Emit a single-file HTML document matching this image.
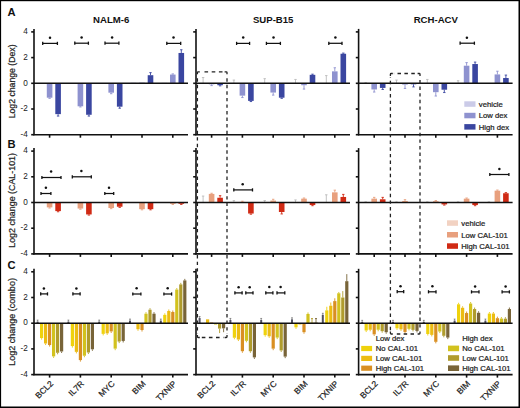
<!DOCTYPE html>
<html><head><meta charset="utf-8"><style>
html,body{margin:0;padding:0;background:#fff;}
svg{display:block;}
text{font-family:"Liberation Sans", sans-serif;}
text.r{stroke:#222;stroke-width:0.22px;}
</style></head><body>
<svg width="520" height="408" viewBox="0 0 520 408">
<rect x="0" y="0" width="520" height="408" fill="#fff"/>
<rect x="38.30" y="83.04" width="5.60" height="0.26" fill="#cbcbe8"/>
<rect x="46.80" y="83.30" width="5.60" height="14.39" fill="#8e92cf"/>
<line x1="49.60" y1="97.69" x2="49.60" y2="98.33" stroke="#8e92cf" stroke-width="0.9" />
<line x1="48.40" y1="98.33" x2="50.80" y2="98.33" stroke="#8e92cf" stroke-width="0.9" />
<rect x="55.30" y="83.30" width="5.60" height="30.84" fill="#3a46a0"/>
<line x1="58.10" y1="114.14" x2="58.10" y2="116.07" stroke="#3a46a0" stroke-width="0.9" />
<line x1="56.90" y1="116.07" x2="59.30" y2="116.07" stroke="#3a46a0" stroke-width="0.9" />
<rect x="69.10" y="83.04" width="5.60" height="0.26" fill="#cbcbe8"/>
<rect x="77.60" y="83.30" width="5.60" height="23.00" fill="#8e92cf"/>
<line x1="80.40" y1="106.30" x2="80.40" y2="106.94" stroke="#8e92cf" stroke-width="0.9" />
<line x1="79.20" y1="106.94" x2="81.60" y2="106.94" stroke="#8e92cf" stroke-width="0.9" />
<rect x="86.10" y="83.30" width="5.60" height="31.48" fill="#3a46a0"/>
<line x1="88.90" y1="114.78" x2="88.90" y2="116.07" stroke="#3a46a0" stroke-width="0.9" />
<line x1="87.70" y1="116.07" x2="90.10" y2="116.07" stroke="#3a46a0" stroke-width="0.9" />
<rect x="99.90" y="83.04" width="5.60" height="0.26" fill="#cbcbe8"/>
<rect x="108.40" y="83.30" width="5.60" height="9.38" fill="#8e92cf"/>
<line x1="111.20" y1="92.68" x2="111.20" y2="93.71" stroke="#8e92cf" stroke-width="0.9" />
<line x1="110.00" y1="93.71" x2="112.40" y2="93.71" stroke="#8e92cf" stroke-width="0.9" />
<rect x="116.90" y="83.30" width="5.60" height="23.39" fill="#3a46a0"/>
<line x1="119.70" y1="106.69" x2="119.70" y2="108.23" stroke="#3a46a0" stroke-width="0.9" />
<line x1="118.50" y1="108.23" x2="120.90" y2="108.23" stroke="#3a46a0" stroke-width="0.9" />
<rect x="130.70" y="82.66" width="5.60" height="0.64" fill="#cbcbe8"/>
<rect x="139.20" y="82.66" width="5.60" height="0.64" fill="#8e92cf"/>
<rect x="147.70" y="75.20" width="5.60" height="8.10" fill="#3a46a0"/>
<line x1="150.50" y1="75.20" x2="150.50" y2="72.63" stroke="#3a46a0" stroke-width="0.9" />
<line x1="149.30" y1="72.63" x2="151.70" y2="72.63" stroke="#3a46a0" stroke-width="0.9" />
<rect x="161.50" y="82.79" width="5.60" height="0.51" fill="#cbcbe8"/>
<rect x="170.00" y="74.56" width="5.60" height="8.74" fill="#8e92cf"/>
<line x1="172.80" y1="74.56" x2="172.80" y2="73.92" stroke="#8e92cf" stroke-width="0.9" />
<line x1="171.60" y1="73.92" x2="174.00" y2="73.92" stroke="#8e92cf" stroke-width="0.9" />
<rect x="178.50" y="52.97" width="5.60" height="30.33" fill="#3a46a0"/>
<line x1="181.30" y1="52.97" x2="181.30" y2="49.76" stroke="#3a46a0" stroke-width="0.9" />
<line x1="180.10" y1="49.76" x2="182.50" y2="49.76" stroke="#3a46a0" stroke-width="0.9" />
<line x1="203.10" y1="83.30" x2="203.10" y2="77.52" stroke="#bbbbbb" stroke-width="0.9" />
<line x1="201.90" y1="77.52" x2="204.30" y2="77.52" stroke="#bbbbbb" stroke-width="0.9" />
<rect x="208.80" y="83.30" width="5.60" height="1.03" fill="#8e92cf"/>
<line x1="211.60" y1="84.33" x2="211.60" y2="85.61" stroke="#8e92cf" stroke-width="0.9" />
<line x1="210.40" y1="85.61" x2="212.80" y2="85.61" stroke="#8e92cf" stroke-width="0.9" />
<rect x="217.30" y="83.30" width="5.60" height="1.93" fill="#3a46a0"/>
<line x1="220.10" y1="85.23" x2="220.10" y2="85.87" stroke="#3a46a0" stroke-width="0.9" />
<line x1="218.90" y1="85.87" x2="221.30" y2="85.87" stroke="#3a46a0" stroke-width="0.9" />
<line x1="233.90" y1="83.30" x2="233.90" y2="80.09" stroke="#bbbbbb" stroke-width="0.9" />
<line x1="232.70" y1="80.09" x2="235.10" y2="80.09" stroke="#bbbbbb" stroke-width="0.9" />
<rect x="239.60" y="83.30" width="5.60" height="12.34" fill="#8e92cf"/>
<line x1="242.40" y1="95.64" x2="242.40" y2="97.56" stroke="#8e92cf" stroke-width="0.9" />
<line x1="241.20" y1="97.56" x2="243.60" y2="97.56" stroke="#8e92cf" stroke-width="0.9" />
<rect x="248.10" y="83.30" width="5.60" height="17.60" fill="#3a46a0"/>
<line x1="250.90" y1="100.90" x2="250.90" y2="101.55" stroke="#3a46a0" stroke-width="0.9" />
<line x1="249.70" y1="101.55" x2="252.10" y2="101.55" stroke="#3a46a0" stroke-width="0.9" />
<line x1="264.70" y1="83.30" x2="264.70" y2="78.67" stroke="#bbbbbb" stroke-width="0.9" />
<line x1="263.50" y1="78.67" x2="265.90" y2="78.67" stroke="#bbbbbb" stroke-width="0.9" />
<rect x="270.40" y="83.30" width="5.60" height="9.25" fill="#8e92cf"/>
<line x1="273.20" y1="92.55" x2="273.20" y2="95.12" stroke="#8e92cf" stroke-width="0.9" />
<line x1="272.00" y1="95.12" x2="274.40" y2="95.12" stroke="#8e92cf" stroke-width="0.9" />
<rect x="278.90" y="83.30" width="5.60" height="14.39" fill="#3a46a0"/>
<line x1="281.70" y1="97.69" x2="281.70" y2="98.33" stroke="#3a46a0" stroke-width="0.9" />
<line x1="280.50" y1="98.33" x2="282.90" y2="98.33" stroke="#3a46a0" stroke-width="0.9" />
<line x1="295.50" y1="83.30" x2="295.50" y2="79.44" stroke="#bbbbbb" stroke-width="0.9" />
<line x1="294.30" y1="79.44" x2="296.70" y2="79.44" stroke="#bbbbbb" stroke-width="0.9" />
<rect x="301.20" y="83.30" width="5.60" height="1.93" fill="#8e92cf"/>
<line x1="304.00" y1="85.23" x2="304.00" y2="89.08" stroke="#8e92cf" stroke-width="0.9" />
<line x1="302.80" y1="89.08" x2="305.20" y2="89.08" stroke="#8e92cf" stroke-width="0.9" />
<rect x="309.70" y="74.82" width="5.60" height="8.48" fill="#3a46a0"/>
<line x1="312.50" y1="74.82" x2="312.50" y2="74.18" stroke="#3a46a0" stroke-width="0.9" />
<line x1="311.30" y1="74.18" x2="313.70" y2="74.18" stroke="#3a46a0" stroke-width="0.9" />
<line x1="326.30" y1="83.30" x2="326.30" y2="75.59" stroke="#bbbbbb" stroke-width="0.9" />
<line x1="325.10" y1="75.59" x2="327.50" y2="75.59" stroke="#bbbbbb" stroke-width="0.9" />
<rect x="332.00" y="71.35" width="5.60" height="11.95" fill="#8e92cf"/>
<line x1="334.80" y1="71.35" x2="334.80" y2="67.75" stroke="#8e92cf" stroke-width="0.9" />
<line x1="333.60" y1="67.75" x2="336.00" y2="67.75" stroke="#8e92cf" stroke-width="0.9" />
<rect x="340.50" y="53.75" width="5.60" height="29.55" fill="#3a46a0"/>
<line x1="343.30" y1="53.75" x2="343.30" y2="53.10" stroke="#3a46a0" stroke-width="0.9" />
<line x1="342.10" y1="53.10" x2="344.50" y2="53.10" stroke="#3a46a0" stroke-width="0.9" />
<line x1="365.70" y1="83.30" x2="365.70" y2="82.66" stroke="#bbbbbb" stroke-width="0.9" />
<line x1="364.50" y1="82.66" x2="366.90" y2="82.66" stroke="#bbbbbb" stroke-width="0.9" />
<rect x="371.40" y="83.30" width="5.60" height="6.17" fill="#8e92cf"/>
<line x1="374.20" y1="89.47" x2="374.20" y2="92.04" stroke="#8e92cf" stroke-width="0.9" />
<line x1="373.00" y1="92.04" x2="375.40" y2="92.04" stroke="#8e92cf" stroke-width="0.9" />
<rect x="379.90" y="83.30" width="5.60" height="4.63" fill="#3a46a0"/>
<line x1="382.70" y1="87.93" x2="382.70" y2="89.47" stroke="#3a46a0" stroke-width="0.9" />
<line x1="381.50" y1="89.47" x2="383.90" y2="89.47" stroke="#3a46a0" stroke-width="0.9" />
<line x1="396.50" y1="83.30" x2="396.50" y2="80.09" stroke="#bbbbbb" stroke-width="0.9" />
<line x1="395.30" y1="80.09" x2="397.70" y2="80.09" stroke="#bbbbbb" stroke-width="0.9" />
<rect x="402.20" y="83.30" width="5.60" height="1.28" fill="#8e92cf"/>
<line x1="405.00" y1="84.58" x2="405.00" y2="88.44" stroke="#8e92cf" stroke-width="0.9" />
<line x1="403.80" y1="88.44" x2="406.20" y2="88.44" stroke="#8e92cf" stroke-width="0.9" />
<rect x="410.70" y="83.30" width="5.60" height="1.03" fill="#3a46a0"/>
<line x1="413.50" y1="84.33" x2="413.50" y2="86.90" stroke="#3a46a0" stroke-width="0.9" />
<line x1="412.30" y1="86.90" x2="414.70" y2="86.90" stroke="#3a46a0" stroke-width="0.9" />
<line x1="427.30" y1="83.30" x2="427.30" y2="79.44" stroke="#bbbbbb" stroke-width="0.9" />
<line x1="426.10" y1="79.44" x2="428.50" y2="79.44" stroke="#bbbbbb" stroke-width="0.9" />
<rect x="433.00" y="83.30" width="5.60" height="8.87" fill="#8e92cf"/>
<line x1="435.80" y1="92.17" x2="435.80" y2="96.02" stroke="#8e92cf" stroke-width="0.9" />
<line x1="434.60" y1="96.02" x2="437.00" y2="96.02" stroke="#8e92cf" stroke-width="0.9" />
<rect x="441.50" y="83.30" width="5.60" height="6.42" fill="#3a46a0"/>
<line x1="444.30" y1="89.72" x2="444.30" y2="92.55" stroke="#3a46a0" stroke-width="0.9" />
<line x1="443.10" y1="92.55" x2="445.50" y2="92.55" stroke="#3a46a0" stroke-width="0.9" />
<line x1="458.10" y1="83.30" x2="458.10" y2="80.73" stroke="#bbbbbb" stroke-width="0.9" />
<line x1="456.90" y1="80.73" x2="459.30" y2="80.73" stroke="#bbbbbb" stroke-width="0.9" />
<rect x="463.80" y="65.70" width="5.60" height="17.60" fill="#8e92cf"/>
<line x1="466.60" y1="65.70" x2="466.60" y2="62.61" stroke="#8e92cf" stroke-width="0.9" />
<line x1="465.40" y1="62.61" x2="467.80" y2="62.61" stroke="#8e92cf" stroke-width="0.9" />
<rect x="472.30" y="64.03" width="5.60" height="19.27" fill="#3a46a0"/>
<line x1="475.10" y1="64.03" x2="475.10" y2="62.10" stroke="#3a46a0" stroke-width="0.9" />
<line x1="473.90" y1="62.10" x2="476.30" y2="62.10" stroke="#3a46a0" stroke-width="0.9" />
<rect x="494.60" y="74.43" width="5.60" height="8.87" fill="#8e92cf"/>
<line x1="497.40" y1="74.43" x2="497.40" y2="71.22" stroke="#8e92cf" stroke-width="0.9" />
<line x1="496.20" y1="71.22" x2="498.60" y2="71.22" stroke="#8e92cf" stroke-width="0.9" />
<rect x="503.10" y="78.03" width="5.60" height="5.27" fill="#3a46a0"/>
<line x1="505.90" y1="78.03" x2="505.90" y2="75.08" stroke="#3a46a0" stroke-width="0.9" />
<line x1="504.70" y1="75.08" x2="507.10" y2="75.08" stroke="#3a46a0" stroke-width="0.9" />
<rect x="46.80" y="202.50" width="5.60" height="4.88" fill="#e8a07e"/>
<line x1="49.60" y1="207.38" x2="49.60" y2="208.03" stroke="#e8a07e" stroke-width="0.9" />
<line x1="48.40" y1="208.03" x2="50.80" y2="208.03" stroke="#e8a07e" stroke-width="0.9" />
<rect x="55.30" y="202.50" width="5.60" height="8.61" fill="#d02a14"/>
<line x1="58.10" y1="211.11" x2="58.10" y2="211.75" stroke="#d02a14" stroke-width="0.9" />
<line x1="56.90" y1="211.75" x2="59.30" y2="211.75" stroke="#d02a14" stroke-width="0.9" />
<rect x="77.60" y="202.50" width="5.60" height="6.04" fill="#e8a07e"/>
<line x1="80.40" y1="208.54" x2="80.40" y2="209.18" stroke="#e8a07e" stroke-width="0.9" />
<line x1="79.20" y1="209.18" x2="81.60" y2="209.18" stroke="#e8a07e" stroke-width="0.9" />
<rect x="86.10" y="202.50" width="5.60" height="11.95" fill="#d02a14"/>
<line x1="88.90" y1="214.45" x2="88.90" y2="215.09" stroke="#d02a14" stroke-width="0.9" />
<line x1="87.70" y1="215.09" x2="90.10" y2="215.09" stroke="#d02a14" stroke-width="0.9" />
<rect x="108.40" y="202.50" width="5.60" height="5.53" fill="#e8a07e"/>
<line x1="111.20" y1="208.03" x2="111.20" y2="208.67" stroke="#e8a07e" stroke-width="0.9" />
<line x1="110.00" y1="208.67" x2="112.40" y2="208.67" stroke="#e8a07e" stroke-width="0.9" />
<rect x="116.90" y="202.50" width="5.60" height="4.24" fill="#d02a14"/>
<line x1="119.70" y1="206.74" x2="119.70" y2="207.38" stroke="#d02a14" stroke-width="0.9" />
<line x1="118.50" y1="207.38" x2="120.90" y2="207.38" stroke="#d02a14" stroke-width="0.9" />
<rect x="139.20" y="202.50" width="5.60" height="6.68" fill="#e8a07e"/>
<line x1="142.00" y1="209.18" x2="142.00" y2="209.82" stroke="#e8a07e" stroke-width="0.9" />
<line x1="140.80" y1="209.82" x2="143.20" y2="209.82" stroke="#e8a07e" stroke-width="0.9" />
<rect x="147.70" y="202.50" width="5.60" height="6.68" fill="#d02a14"/>
<line x1="150.50" y1="209.18" x2="150.50" y2="209.82" stroke="#d02a14" stroke-width="0.9" />
<line x1="149.30" y1="209.82" x2="151.70" y2="209.82" stroke="#d02a14" stroke-width="0.9" />
<rect x="170.00" y="202.50" width="5.60" height="1.28" fill="#e8a07e"/>
<line x1="172.80" y1="203.78" x2="172.80" y2="204.43" stroke="#e8a07e" stroke-width="0.9" />
<line x1="171.60" y1="204.43" x2="174.00" y2="204.43" stroke="#e8a07e" stroke-width="0.9" />
<rect x="178.50" y="202.50" width="5.60" height="1.28" fill="#d02a14"/>
<line x1="181.30" y1="203.78" x2="181.30" y2="204.43" stroke="#d02a14" stroke-width="0.9" />
<line x1="180.10" y1="204.43" x2="182.50" y2="204.43" stroke="#d02a14" stroke-width="0.9" />
<line x1="203.10" y1="202.50" x2="203.10" y2="196.07" stroke="#bbbbbb" stroke-width="0.9" />
<line x1="201.90" y1="196.07" x2="204.30" y2="196.07" stroke="#bbbbbb" stroke-width="0.9" />
<rect x="208.80" y="193.89" width="5.60" height="8.61" fill="#e8a07e"/>
<line x1="211.60" y1="193.89" x2="211.60" y2="193.25" stroke="#e8a07e" stroke-width="0.9" />
<line x1="210.40" y1="193.25" x2="212.80" y2="193.25" stroke="#e8a07e" stroke-width="0.9" />
<rect x="217.30" y="197.75" width="5.60" height="4.75" fill="#d02a14"/>
<line x1="220.10" y1="197.75" x2="220.10" y2="195.69" stroke="#d02a14" stroke-width="0.9" />
<line x1="218.90" y1="195.69" x2="221.30" y2="195.69" stroke="#d02a14" stroke-width="0.9" />
<line x1="233.90" y1="202.50" x2="233.90" y2="200.57" stroke="#bbbbbb" stroke-width="0.9" />
<line x1="232.70" y1="200.57" x2="235.10" y2="200.57" stroke="#bbbbbb" stroke-width="0.9" />
<rect x="239.60" y="201.86" width="5.60" height="0.64" fill="#e8a07e"/>
<line x1="242.40" y1="201.86" x2="242.40" y2="201.22" stroke="#e8a07e" stroke-width="0.9" />
<line x1="241.20" y1="201.22" x2="243.60" y2="201.22" stroke="#e8a07e" stroke-width="0.9" />
<rect x="248.10" y="202.50" width="5.60" height="11.05" fill="#d02a14"/>
<line x1="250.90" y1="213.55" x2="250.90" y2="214.19" stroke="#d02a14" stroke-width="0.9" />
<line x1="249.70" y1="214.19" x2="252.10" y2="214.19" stroke="#d02a14" stroke-width="0.9" />
<line x1="264.70" y1="202.50" x2="264.70" y2="200.57" stroke="#bbbbbb" stroke-width="0.9" />
<line x1="263.50" y1="200.57" x2="265.90" y2="200.57" stroke="#bbbbbb" stroke-width="0.9" />
<rect x="270.40" y="200.57" width="5.60" height="1.93" fill="#e8a07e"/>
<line x1="273.20" y1="200.57" x2="273.20" y2="199.29" stroke="#e8a07e" stroke-width="0.9" />
<line x1="272.00" y1="199.29" x2="274.40" y2="199.29" stroke="#e8a07e" stroke-width="0.9" />
<rect x="278.90" y="202.50" width="5.60" height="9.51" fill="#d02a14"/>
<line x1="281.70" y1="212.01" x2="281.70" y2="213.94" stroke="#d02a14" stroke-width="0.9" />
<line x1="280.50" y1="213.94" x2="282.90" y2="213.94" stroke="#d02a14" stroke-width="0.9" />
<line x1="295.50" y1="202.50" x2="295.50" y2="199.93" stroke="#bbbbbb" stroke-width="0.9" />
<line x1="294.30" y1="199.93" x2="296.70" y2="199.93" stroke="#bbbbbb" stroke-width="0.9" />
<rect x="301.20" y="198.65" width="5.60" height="3.85" fill="#e8a07e"/>
<line x1="304.00" y1="198.65" x2="304.00" y2="198.00" stroke="#e8a07e" stroke-width="0.9" />
<line x1="302.80" y1="198.00" x2="305.20" y2="198.00" stroke="#e8a07e" stroke-width="0.9" />
<rect x="309.70" y="202.50" width="5.60" height="2.57" fill="#d02a14"/>
<line x1="312.50" y1="205.07" x2="312.50" y2="205.71" stroke="#d02a14" stroke-width="0.9" />
<line x1="311.30" y1="205.71" x2="313.70" y2="205.71" stroke="#d02a14" stroke-width="0.9" />
<line x1="326.30" y1="202.50" x2="326.30" y2="194.79" stroke="#bbbbbb" stroke-width="0.9" />
<line x1="325.10" y1="194.79" x2="327.50" y2="194.79" stroke="#bbbbbb" stroke-width="0.9" />
<rect x="332.00" y="192.35" width="5.60" height="10.15" fill="#e8a07e"/>
<line x1="334.80" y1="192.35" x2="334.80" y2="190.16" stroke="#e8a07e" stroke-width="0.9" />
<line x1="333.60" y1="190.16" x2="336.00" y2="190.16" stroke="#e8a07e" stroke-width="0.9" />
<rect x="340.50" y="196.97" width="5.60" height="5.53" fill="#d02a14"/>
<line x1="343.30" y1="196.97" x2="343.30" y2="194.40" stroke="#d02a14" stroke-width="0.9" />
<line x1="342.10" y1="194.40" x2="344.50" y2="194.40" stroke="#d02a14" stroke-width="0.9" />
<line x1="365.70" y1="202.50" x2="365.70" y2="201.86" stroke="#bbbbbb" stroke-width="0.9" />
<line x1="364.50" y1="201.86" x2="366.90" y2="201.86" stroke="#bbbbbb" stroke-width="0.9" />
<rect x="371.40" y="198.65" width="5.60" height="3.85" fill="#e8a07e"/>
<line x1="374.20" y1="198.65" x2="374.20" y2="197.36" stroke="#e8a07e" stroke-width="0.9" />
<line x1="373.00" y1="197.36" x2="375.40" y2="197.36" stroke="#e8a07e" stroke-width="0.9" />
<rect x="379.90" y="199.29" width="5.60" height="3.21" fill="#d02a14"/>
<line x1="382.70" y1="199.29" x2="382.70" y2="197.36" stroke="#d02a14" stroke-width="0.9" />
<line x1="381.50" y1="197.36" x2="383.90" y2="197.36" stroke="#d02a14" stroke-width="0.9" />
<line x1="396.50" y1="202.50" x2="396.50" y2="201.86" stroke="#bbbbbb" stroke-width="0.9" />
<line x1="395.30" y1="201.86" x2="397.70" y2="201.86" stroke="#bbbbbb" stroke-width="0.9" />
<rect x="402.20" y="200.96" width="5.60" height="1.54" fill="#e8a07e"/>
<line x1="405.00" y1="200.96" x2="405.00" y2="199.67" stroke="#e8a07e" stroke-width="0.9" />
<line x1="403.80" y1="199.67" x2="406.20" y2="199.67" stroke="#e8a07e" stroke-width="0.9" />
<line x1="427.30" y1="202.50" x2="427.30" y2="201.86" stroke="#bbbbbb" stroke-width="0.9" />
<line x1="426.10" y1="201.86" x2="428.50" y2="201.86" stroke="#bbbbbb" stroke-width="0.9" />
<rect x="433.00" y="201.22" width="5.60" height="1.28" fill="#e8a07e"/>
<line x1="435.80" y1="201.22" x2="435.80" y2="200.57" stroke="#e8a07e" stroke-width="0.9" />
<line x1="434.60" y1="200.57" x2="437.00" y2="200.57" stroke="#e8a07e" stroke-width="0.9" />
<rect x="441.50" y="202.50" width="5.60" height="1.93" fill="#d02a14"/>
<line x1="444.30" y1="204.43" x2="444.30" y2="205.07" stroke="#d02a14" stroke-width="0.9" />
<line x1="443.10" y1="205.07" x2="445.50" y2="205.07" stroke="#d02a14" stroke-width="0.9" />
<line x1="458.10" y1="202.50" x2="458.10" y2="201.86" stroke="#bbbbbb" stroke-width="0.9" />
<line x1="456.90" y1="201.86" x2="459.30" y2="201.86" stroke="#bbbbbb" stroke-width="0.9" />
<rect x="463.80" y="198.65" width="5.60" height="3.85" fill="#e8a07e"/>
<line x1="466.60" y1="198.65" x2="466.60" y2="198.00" stroke="#e8a07e" stroke-width="0.9" />
<line x1="465.40" y1="198.00" x2="467.80" y2="198.00" stroke="#e8a07e" stroke-width="0.9" />
<rect x="472.30" y="202.50" width="5.60" height="2.57" fill="#d02a14"/>
<line x1="475.10" y1="205.07" x2="475.10" y2="205.71" stroke="#d02a14" stroke-width="0.9" />
<line x1="473.90" y1="205.71" x2="476.30" y2="205.71" stroke="#d02a14" stroke-width="0.9" />
<line x1="488.90" y1="202.50" x2="488.90" y2="201.86" stroke="#bbbbbb" stroke-width="0.9" />
<line x1="487.70" y1="201.86" x2="490.10" y2="201.86" stroke="#bbbbbb" stroke-width="0.9" />
<rect x="494.60" y="190.68" width="5.60" height="11.82" fill="#e8a07e"/>
<line x1="497.40" y1="190.68" x2="497.40" y2="190.04" stroke="#e8a07e" stroke-width="0.9" />
<line x1="496.20" y1="190.04" x2="498.60" y2="190.04" stroke="#e8a07e" stroke-width="0.9" />
<rect x="503.10" y="193.25" width="5.60" height="9.25" fill="#d02a14"/>
<line x1="505.90" y1="193.25" x2="505.90" y2="192.61" stroke="#d02a14" stroke-width="0.9" />
<line x1="504.70" y1="192.61" x2="507.10" y2="192.61" stroke="#d02a14" stroke-width="0.9" />
<rect x="36.60" y="321.66" width="2.00" height="1.54" fill="#50505e"/>
<line x1="37.60" y1="321.66" x2="37.60" y2="320.12" stroke="#666" stroke-width="0.7" />
<line x1="36.70" y1="320.12" x2="38.50" y2="320.12" stroke="#666" stroke-width="0.7" />
<rect x="40.00" y="323.20" width="3.20" height="14.91" fill="#efd20c"/>
<line x1="41.60" y1="338.11" x2="41.60" y2="339.65" stroke="#efd20c" stroke-width="0.9" />
<rect x="44.00" y="323.20" width="3.20" height="20.30" fill="#ecbc12"/>
<line x1="45.60" y1="343.50" x2="45.60" y2="345.05" stroke="#ecbc12" stroke-width="0.9" />
<rect x="48.00" y="323.20" width="3.20" height="21.84" fill="#d98f22"/>
<line x1="49.60" y1="345.04" x2="49.60" y2="346.59" stroke="#d98f22" stroke-width="0.9" />
<rect x="52.00" y="323.20" width="3.20" height="33.15" fill="#d2c21e"/>
<line x1="53.60" y1="356.35" x2="53.60" y2="357.89" stroke="#d2c21e" stroke-width="0.9" />
<rect x="56.00" y="323.20" width="3.20" height="29.56" fill="#b09c2c"/>
<line x1="57.60" y1="352.75" x2="57.60" y2="354.30" stroke="#b09c2c" stroke-width="0.9" />
<rect x="60.00" y="323.20" width="3.20" height="28.27" fill="#786438"/>
<line x1="61.60" y1="351.47" x2="61.60" y2="353.01" stroke="#786438" stroke-width="0.9" />
<rect x="67.40" y="321.66" width="2.00" height="1.54" fill="#50505e"/>
<line x1="68.40" y1="321.66" x2="68.40" y2="320.12" stroke="#666" stroke-width="0.7" />
<line x1="67.50" y1="320.12" x2="69.30" y2="320.12" stroke="#666" stroke-width="0.7" />
<rect x="70.80" y="323.20" width="3.20" height="22.87" fill="#efd20c"/>
<line x1="72.40" y1="346.07" x2="72.40" y2="347.62" stroke="#efd20c" stroke-width="0.9" />
<rect x="74.80" y="323.20" width="3.20" height="28.66" fill="#ecbc12"/>
<line x1="76.40" y1="351.86" x2="76.40" y2="353.40" stroke="#ecbc12" stroke-width="0.9" />
<rect x="78.80" y="323.20" width="3.20" height="36.88" fill="#d98f22"/>
<line x1="80.40" y1="360.08" x2="80.40" y2="361.62" stroke="#d98f22" stroke-width="0.9" />
<rect x="82.80" y="323.20" width="3.20" height="32.51" fill="#d2c21e"/>
<line x1="84.40" y1="355.71" x2="84.40" y2="357.25" stroke="#d2c21e" stroke-width="0.9" />
<rect x="86.80" y="323.20" width="3.20" height="29.30" fill="#b09c2c"/>
<line x1="88.40" y1="352.50" x2="88.40" y2="354.04" stroke="#b09c2c" stroke-width="0.9" />
<rect x="90.80" y="323.20" width="3.20" height="26.09" fill="#786438"/>
<line x1="92.40" y1="349.29" x2="92.40" y2="350.83" stroke="#786438" stroke-width="0.9" />
<rect x="98.20" y="321.66" width="2.00" height="1.54" fill="#50505e"/>
<line x1="99.20" y1="321.66" x2="99.20" y2="320.12" stroke="#666" stroke-width="0.7" />
<line x1="98.30" y1="320.12" x2="100.10" y2="320.12" stroke="#666" stroke-width="0.7" />
<rect x="101.60" y="323.20" width="3.20" height="10.67" fill="#efd20c"/>
<line x1="103.20" y1="333.87" x2="103.20" y2="335.41" stroke="#efd20c" stroke-width="0.9" />
<rect x="105.60" y="323.20" width="3.20" height="10.15" fill="#ecbc12"/>
<line x1="107.20" y1="333.35" x2="107.20" y2="334.89" stroke="#ecbc12" stroke-width="0.9" />
<rect x="109.60" y="323.20" width="3.20" height="8.22" fill="#d98f22"/>
<line x1="111.20" y1="331.42" x2="111.20" y2="332.97" stroke="#d98f22" stroke-width="0.9" />
<rect x="113.60" y="323.20" width="3.20" height="25.44" fill="#d2c21e"/>
<line x1="115.20" y1="348.64" x2="115.20" y2="350.19" stroke="#d2c21e" stroke-width="0.9" />
<rect x="117.60" y="323.20" width="3.20" height="18.38" fill="#b09c2c"/>
<line x1="119.20" y1="341.58" x2="119.20" y2="343.12" stroke="#b09c2c" stroke-width="0.9" />
<rect x="121.60" y="323.20" width="3.20" height="17.73" fill="#786438"/>
<line x1="123.20" y1="340.93" x2="123.20" y2="342.47" stroke="#786438" stroke-width="0.9" />
<rect x="129.00" y="320.63" width="2.00" height="2.57" fill="#50505e"/>
<line x1="130.00" y1="320.63" x2="130.00" y2="319.09" stroke="#666" stroke-width="0.7" />
<line x1="129.10" y1="319.09" x2="130.90" y2="319.09" stroke="#666" stroke-width="0.7" />
<rect x="132.40" y="323.20" width="3.20" height="0.26" fill="#efd20c"/>
<rect x="136.40" y="323.20" width="3.20" height="6.04" fill="#ecbc12"/>
<line x1="138.00" y1="329.24" x2="138.00" y2="330.78" stroke="#ecbc12" stroke-width="0.9" />
<rect x="140.40" y="323.20" width="3.20" height="6.81" fill="#d98f22"/>
<line x1="142.00" y1="330.01" x2="142.00" y2="331.55" stroke="#d98f22" stroke-width="0.9" />
<rect x="144.40" y="313.69" width="3.20" height="9.51" fill="#d2c21e"/>
<line x1="146.00" y1="313.69" x2="146.00" y2="312.15" stroke="#d2c21e" stroke-width="0.9" />
<rect x="148.40" y="309.71" width="3.20" height="13.49" fill="#b09c2c"/>
<line x1="150.00" y1="309.71" x2="150.00" y2="308.17" stroke="#b09c2c" stroke-width="0.9" />
<rect x="152.40" y="313.69" width="3.20" height="9.51" fill="#786438"/>
<line x1="154.00" y1="313.69" x2="154.00" y2="312.15" stroke="#786438" stroke-width="0.9" />
<rect x="159.80" y="320.63" width="2.00" height="2.57" fill="#50505e"/>
<line x1="160.80" y1="320.63" x2="160.80" y2="319.09" stroke="#666" stroke-width="0.7" />
<line x1="159.90" y1="319.09" x2="161.70" y2="319.09" stroke="#666" stroke-width="0.7" />
<rect x="163.20" y="314.85" width="3.20" height="8.35" fill="#efd20c"/>
<line x1="164.80" y1="314.85" x2="164.80" y2="313.31" stroke="#efd20c" stroke-width="0.9" />
<rect x="167.20" y="310.99" width="3.20" height="12.21" fill="#ecbc12"/>
<line x1="168.80" y1="310.99" x2="168.80" y2="309.45" stroke="#ecbc12" stroke-width="0.9" />
<rect x="171.20" y="312.02" width="3.20" height="11.18" fill="#d98f22"/>
<line x1="172.80" y1="312.02" x2="172.80" y2="310.48" stroke="#d98f22" stroke-width="0.9" />
<rect x="175.20" y="289.53" width="3.20" height="33.67" fill="#d2c21e"/>
<line x1="176.80" y1="289.53" x2="176.80" y2="287.99" stroke="#d2c21e" stroke-width="0.9" />
<rect x="179.20" y="284.39" width="3.20" height="38.81" fill="#b09c2c"/>
<line x1="180.80" y1="284.39" x2="180.80" y2="282.85" stroke="#b09c2c" stroke-width="0.9" />
<rect x="183.20" y="280.41" width="3.20" height="42.79" fill="#786438"/>
<line x1="184.80" y1="280.41" x2="184.80" y2="278.87" stroke="#786438" stroke-width="0.9" />
<rect x="198.60" y="318.06" width="2.00" height="5.14" fill="#50505e"/>
<line x1="199.60" y1="318.06" x2="199.60" y2="316.52" stroke="#666" stroke-width="0.7" />
<line x1="198.70" y1="316.52" x2="200.50" y2="316.52" stroke="#666" stroke-width="0.7" />
<rect x="202.00" y="323.20" width="3.20" height="0.64" fill="#efd20c"/>
<rect x="206.00" y="319.34" width="3.20" height="3.86" fill="#ecbc12"/>
<rect x="210.00" y="322.56" width="3.20" height="0.64" fill="#d98f22"/>
<rect x="214.00" y="323.20" width="3.20" height="1.29" fill="#d2c21e"/>
<rect x="218.00" y="323.20" width="3.20" height="5.40" fill="#b09c2c"/>
<line x1="219.60" y1="328.60" x2="219.60" y2="333.09" stroke="#b09c2c" stroke-width="0.9" />
<rect x="222.00" y="323.20" width="3.20" height="5.14" fill="#786438"/>
<line x1="223.60" y1="328.34" x2="223.60" y2="332.19" stroke="#786438" stroke-width="0.9" />
<rect x="229.40" y="319.99" width="2.00" height="3.21" fill="#50505e"/>
<line x1="230.40" y1="319.99" x2="230.40" y2="318.45" stroke="#666" stroke-width="0.7" />
<line x1="229.50" y1="318.45" x2="231.30" y2="318.45" stroke="#666" stroke-width="0.7" />
<rect x="232.80" y="323.20" width="3.20" height="14.52" fill="#efd20c"/>
<line x1="234.40" y1="337.72" x2="234.40" y2="339.26" stroke="#efd20c" stroke-width="0.9" />
<rect x="236.80" y="323.20" width="3.20" height="16.32" fill="#ecbc12"/>
<line x1="238.40" y1="339.52" x2="238.40" y2="341.06" stroke="#ecbc12" stroke-width="0.9" />
<rect x="240.80" y="323.20" width="3.20" height="28.01" fill="#d98f22"/>
<line x1="242.40" y1="351.21" x2="242.40" y2="352.75" stroke="#d98f22" stroke-width="0.9" />
<rect x="244.80" y="323.20" width="3.20" height="17.60" fill="#d2c21e"/>
<line x1="246.40" y1="340.80" x2="246.40" y2="342.35" stroke="#d2c21e" stroke-width="0.9" />
<rect x="248.80" y="323.20" width="3.20" height="28.01" fill="#b09c2c"/>
<line x1="250.40" y1="351.21" x2="250.40" y2="352.75" stroke="#b09c2c" stroke-width="0.9" />
<rect x="252.80" y="323.20" width="3.20" height="34.18" fill="#786438"/>
<line x1="254.40" y1="357.38" x2="254.40" y2="358.92" stroke="#786438" stroke-width="0.9" />
<rect x="260.20" y="319.99" width="2.00" height="3.21" fill="#50505e"/>
<line x1="261.20" y1="319.99" x2="261.20" y2="318.45" stroke="#666" stroke-width="0.7" />
<line x1="260.30" y1="318.45" x2="262.10" y2="318.45" stroke="#666" stroke-width="0.7" />
<rect x="263.60" y="323.20" width="3.20" height="11.95" fill="#efd20c"/>
<line x1="265.20" y1="335.15" x2="265.20" y2="336.69" stroke="#efd20c" stroke-width="0.9" />
<rect x="267.60" y="323.20" width="3.20" height="13.11" fill="#ecbc12"/>
<line x1="269.20" y1="336.31" x2="269.20" y2="337.85" stroke="#ecbc12" stroke-width="0.9" />
<rect x="271.60" y="323.20" width="3.20" height="25.44" fill="#d98f22"/>
<line x1="273.20" y1="348.64" x2="273.20" y2="350.19" stroke="#d98f22" stroke-width="0.9" />
<rect x="275.60" y="323.20" width="3.20" height="14.39" fill="#d2c21e"/>
<line x1="277.20" y1="337.59" x2="277.20" y2="339.13" stroke="#d2c21e" stroke-width="0.9" />
<rect x="279.60" y="323.20" width="3.20" height="27.24" fill="#b09c2c"/>
<line x1="281.20" y1="350.44" x2="281.20" y2="351.98" stroke="#b09c2c" stroke-width="0.9" />
<rect x="283.60" y="323.20" width="3.20" height="33.41" fill="#786438"/>
<line x1="285.20" y1="356.61" x2="285.20" y2="358.15" stroke="#786438" stroke-width="0.9" />
<rect x="291.00" y="319.34" width="2.00" height="3.86" fill="#50505e"/>
<line x1="292.00" y1="319.34" x2="292.00" y2="317.80" stroke="#666" stroke-width="0.7" />
<line x1="291.10" y1="317.80" x2="292.90" y2="317.80" stroke="#666" stroke-width="0.7" />
<rect x="294.40" y="323.20" width="3.20" height="4.11" fill="#efd20c"/>
<line x1="296.00" y1="327.31" x2="296.00" y2="328.85" stroke="#efd20c" stroke-width="0.9" />
<rect x="298.40" y="323.20" width="3.20" height="1.29" fill="#ecbc12"/>
<rect x="302.40" y="323.20" width="3.20" height="9.00" fill="#d98f22"/>
<line x1="304.00" y1="332.19" x2="304.00" y2="333.74" stroke="#d98f22" stroke-width="0.9" />
<rect x="306.40" y="313.95" width="3.20" height="9.25" fill="#d2c21e"/>
<line x1="308.00" y1="313.95" x2="308.00" y2="312.41" stroke="#d2c21e" stroke-width="0.9" />
<rect x="310.40" y="322.43" width="3.20" height="0.77" fill="#b09c2c"/>
<line x1="312.00" y1="322.43" x2="312.00" y2="318.57" stroke="#b09c2c" stroke-width="0.9" />
<line x1="311.00" y1="318.57" x2="313.00" y2="318.57" stroke="#b09c2c" stroke-width="0.9" />
<rect x="314.40" y="322.43" width="3.20" height="0.77" fill="#786438"/>
<line x1="316.00" y1="322.43" x2="316.00" y2="318.57" stroke="#786438" stroke-width="0.9" />
<line x1="315.00" y1="318.57" x2="317.00" y2="318.57" stroke="#786438" stroke-width="0.9" />
<rect x="321.80" y="314.85" width="2.00" height="8.35" fill="#50505e"/>
<line x1="322.80" y1="314.85" x2="322.80" y2="313.31" stroke="#666" stroke-width="0.7" />
<line x1="321.90" y1="313.31" x2="323.70" y2="313.31" stroke="#666" stroke-width="0.7" />
<rect x="325.20" y="310.35" width="3.20" height="12.85" fill="#efd20c"/>
<line x1="326.80" y1="310.35" x2="326.80" y2="306.75" stroke="#efd20c" stroke-width="0.9" />
<rect x="329.20" y="305.72" width="3.20" height="17.48" fill="#ecbc12"/>
<line x1="330.80" y1="305.72" x2="330.80" y2="302.51" stroke="#ecbc12" stroke-width="0.9" />
<rect x="333.20" y="301.10" width="3.20" height="22.10" fill="#d98f22"/>
<line x1="334.80" y1="301.10" x2="334.80" y2="298.27" stroke="#d98f22" stroke-width="0.9" />
<rect x="337.20" y="293.26" width="3.20" height="29.94" fill="#d2c21e"/>
<line x1="338.80" y1="293.26" x2="338.80" y2="291.97" stroke="#d2c21e" stroke-width="0.9" />
<rect x="341.20" y="297.50" width="3.20" height="25.70" fill="#b09c2c"/>
<line x1="342.80" y1="297.50" x2="342.80" y2="291.07" stroke="#b09c2c" stroke-width="0.9" />
<rect x="345.20" y="281.18" width="3.20" height="42.02" fill="#786438"/>
<line x1="346.80" y1="281.18" x2="346.80" y2="274.11" stroke="#786438" stroke-width="0.9" />
<rect x="361.20" y="321.91" width="2.00" height="1.29" fill="#50505e"/>
<line x1="362.20" y1="321.91" x2="362.20" y2="320.37" stroke="#666" stroke-width="0.7" />
<line x1="361.30" y1="320.37" x2="363.10" y2="320.37" stroke="#666" stroke-width="0.7" />
<rect x="364.60" y="323.20" width="3.20" height="7.32" fill="#efd20c"/>
<line x1="366.20" y1="330.52" x2="366.20" y2="332.07" stroke="#efd20c" stroke-width="0.9" />
<rect x="368.60" y="323.20" width="3.20" height="6.55" fill="#ecbc12"/>
<line x1="370.20" y1="329.75" x2="370.20" y2="331.30" stroke="#ecbc12" stroke-width="0.9" />
<rect x="372.60" y="323.20" width="3.20" height="11.18" fill="#d98f22"/>
<line x1="374.20" y1="334.38" x2="374.20" y2="335.92" stroke="#d98f22" stroke-width="0.9" />
<rect x="376.60" y="323.20" width="3.20" height="6.55" fill="#d2c21e"/>
<line x1="378.20" y1="329.75" x2="378.20" y2="331.30" stroke="#d2c21e" stroke-width="0.9" />
<rect x="380.60" y="323.20" width="3.20" height="7.97" fill="#b09c2c"/>
<line x1="382.20" y1="331.17" x2="382.20" y2="332.71" stroke="#b09c2c" stroke-width="0.9" />
<rect x="384.60" y="323.20" width="3.20" height="9.00" fill="#786438"/>
<line x1="386.20" y1="332.19" x2="386.20" y2="333.74" stroke="#786438" stroke-width="0.9" />
<rect x="392.00" y="321.91" width="2.00" height="1.29" fill="#50505e"/>
<line x1="393.00" y1="321.91" x2="393.00" y2="320.37" stroke="#666" stroke-width="0.7" />
<line x1="392.10" y1="320.37" x2="393.90" y2="320.37" stroke="#666" stroke-width="0.7" />
<rect x="395.40" y="323.20" width="3.20" height="5.14" fill="#efd20c"/>
<line x1="397.00" y1="328.34" x2="397.00" y2="329.88" stroke="#efd20c" stroke-width="0.9" />
<rect x="399.40" y="323.20" width="3.20" height="6.17" fill="#ecbc12"/>
<line x1="401.00" y1="329.37" x2="401.00" y2="330.91" stroke="#ecbc12" stroke-width="0.9" />
<rect x="403.40" y="323.20" width="3.20" height="8.74" fill="#d98f22"/>
<line x1="405.00" y1="331.94" x2="405.00" y2="333.48" stroke="#d98f22" stroke-width="0.9" />
<rect x="407.40" y="323.20" width="3.20" height="5.65" fill="#d2c21e"/>
<line x1="409.00" y1="328.85" x2="409.00" y2="330.40" stroke="#d2c21e" stroke-width="0.9" />
<rect x="411.40" y="323.20" width="3.20" height="6.68" fill="#b09c2c"/>
<line x1="413.00" y1="329.88" x2="413.00" y2="331.42" stroke="#b09c2c" stroke-width="0.9" />
<rect x="415.40" y="323.20" width="3.20" height="7.71" fill="#786438"/>
<line x1="417.00" y1="330.91" x2="417.00" y2="332.45" stroke="#786438" stroke-width="0.9" />
<rect x="422.80" y="321.91" width="2.00" height="1.29" fill="#50505e"/>
<line x1="423.80" y1="321.91" x2="423.80" y2="320.37" stroke="#666" stroke-width="0.7" />
<line x1="422.90" y1="320.37" x2="424.70" y2="320.37" stroke="#666" stroke-width="0.7" />
<rect x="426.20" y="323.20" width="3.20" height="10.79" fill="#efd20c"/>
<line x1="427.80" y1="333.99" x2="427.80" y2="335.54" stroke="#efd20c" stroke-width="0.9" />
<rect x="430.20" y="323.20" width="3.20" height="11.69" fill="#ecbc12"/>
<line x1="431.80" y1="334.89" x2="431.80" y2="336.44" stroke="#ecbc12" stroke-width="0.9" />
<rect x="434.20" y="323.20" width="3.20" height="18.63" fill="#d98f22"/>
<line x1="435.80" y1="341.83" x2="435.80" y2="343.37" stroke="#d98f22" stroke-width="0.9" />
<rect x="438.20" y="323.20" width="3.20" height="8.35" fill="#d2c21e"/>
<line x1="439.80" y1="331.55" x2="439.80" y2="333.09" stroke="#d2c21e" stroke-width="0.9" />
<rect x="442.20" y="323.20" width="3.20" height="12.59" fill="#b09c2c"/>
<line x1="443.80" y1="335.79" x2="443.80" y2="337.33" stroke="#b09c2c" stroke-width="0.9" />
<rect x="446.20" y="323.20" width="3.20" height="14.39" fill="#786438"/>
<line x1="447.80" y1="337.59" x2="447.80" y2="339.13" stroke="#786438" stroke-width="0.9" />
<rect x="453.60" y="320.63" width="2.00" height="2.57" fill="#50505e"/>
<line x1="454.60" y1="320.63" x2="454.60" y2="319.09" stroke="#666" stroke-width="0.7" />
<line x1="453.70" y1="319.09" x2="455.50" y2="319.09" stroke="#666" stroke-width="0.7" />
<rect x="457.00" y="304.31" width="3.20" height="18.89" fill="#efd20c"/>
<line x1="458.60" y1="304.31" x2="458.60" y2="302.77" stroke="#efd20c" stroke-width="0.9" />
<rect x="461.00" y="307.78" width="3.20" height="15.42" fill="#ecbc12"/>
<line x1="462.60" y1="307.78" x2="462.60" y2="306.24" stroke="#ecbc12" stroke-width="0.9" />
<rect x="465.00" y="313.05" width="3.20" height="10.15" fill="#d98f22"/>
<line x1="466.60" y1="313.05" x2="466.60" y2="311.51" stroke="#d98f22" stroke-width="0.9" />
<rect x="469.00" y="303.54" width="3.20" height="19.66" fill="#d2c21e"/>
<line x1="470.60" y1="303.54" x2="470.60" y2="302.00" stroke="#d2c21e" stroke-width="0.9" />
<rect x="473.00" y="309.06" width="3.20" height="14.13" fill="#b09c2c"/>
<line x1="474.60" y1="309.06" x2="474.60" y2="307.52" stroke="#b09c2c" stroke-width="0.9" />
<rect x="477.00" y="312.79" width="3.20" height="10.41" fill="#786438"/>
<line x1="478.60" y1="312.79" x2="478.60" y2="311.25" stroke="#786438" stroke-width="0.9" />
<rect x="484.40" y="320.63" width="2.00" height="2.57" fill="#50505e"/>
<line x1="485.40" y1="320.63" x2="485.40" y2="319.09" stroke="#666" stroke-width="0.7" />
<line x1="484.50" y1="319.09" x2="486.30" y2="319.09" stroke="#666" stroke-width="0.7" />
<rect x="487.80" y="313.56" width="3.20" height="9.64" fill="#efd20c"/>
<line x1="489.40" y1="313.56" x2="489.40" y2="312.02" stroke="#efd20c" stroke-width="0.9" />
<rect x="491.80" y="313.56" width="3.20" height="9.64" fill="#ecbc12"/>
<line x1="493.40" y1="313.56" x2="493.40" y2="312.02" stroke="#ecbc12" stroke-width="0.9" />
<rect x="495.80" y="318.19" width="3.20" height="5.01" fill="#d98f22"/>
<line x1="497.40" y1="318.19" x2="497.40" y2="316.65" stroke="#d98f22" stroke-width="0.9" />
<rect x="499.80" y="318.57" width="3.20" height="4.63" fill="#d2c21e"/>
<line x1="501.40" y1="318.57" x2="501.40" y2="317.03" stroke="#d2c21e" stroke-width="0.9" />
<rect x="503.80" y="318.70" width="3.20" height="4.50" fill="#b09c2c"/>
<line x1="505.40" y1="318.70" x2="505.40" y2="317.16" stroke="#b09c2c" stroke-width="0.9" />
<rect x="507.80" y="309.06" width="3.20" height="14.13" fill="#786438"/>
<line x1="509.40" y1="309.06" x2="509.40" y2="307.52" stroke="#786438" stroke-width="0.9" />
<line x1="34.00" y1="28.90" x2="34.00" y2="135.30" stroke="#111" stroke-width="1.6" />
<line x1="33.40" y1="134.70" x2="188.00" y2="134.70" stroke="#111" stroke-width="1.6" />
<line x1="34.00" y1="83.30" x2="188.00" y2="83.30" stroke="#111" stroke-width="1.6" />
<line x1="31.20" y1="31.90" x2="34.00" y2="31.90" stroke="#111" stroke-width="1.6" />
<text x="27.80" y="34.10" font-size="8.2" text-anchor="end" font-weight="normal" fill="#1a1a1a">4</text>
<line x1="31.20" y1="57.60" x2="34.00" y2="57.60" stroke="#111" stroke-width="1.6" />
<text x="27.80" y="59.80" font-size="8.2" text-anchor="end" font-weight="normal" fill="#1a1a1a">2</text>
<line x1="31.20" y1="83.30" x2="34.00" y2="83.30" stroke="#111" stroke-width="1.6" />
<text x="27.80" y="85.50" font-size="8.2" text-anchor="end" font-weight="normal" fill="#1a1a1a">0</text>
<line x1="31.20" y1="109.00" x2="34.00" y2="109.00" stroke="#111" stroke-width="1.6" />
<text x="27.80" y="111.20" font-size="8.2" text-anchor="end" font-weight="normal" fill="#1a1a1a">-2</text>
<line x1="31.20" y1="134.70" x2="34.00" y2="134.70" stroke="#111" stroke-width="1.6" />
<text x="27.80" y="136.90" font-size="8.2" text-anchor="end" font-weight="normal" fill="#1a1a1a">-4</text>
<line x1="49.60" y1="134.70" x2="49.60" y2="137.70" stroke="#111" stroke-width="1.6" />
<line x1="80.40" y1="134.70" x2="80.40" y2="137.70" stroke="#111" stroke-width="1.6" />
<line x1="111.20" y1="134.70" x2="111.20" y2="137.70" stroke="#111" stroke-width="1.6" />
<line x1="142.00" y1="134.70" x2="142.00" y2="137.70" stroke="#111" stroke-width="1.6" />
<line x1="172.80" y1="134.70" x2="172.80" y2="137.70" stroke="#111" stroke-width="1.6" />
<line x1="196.00" y1="28.90" x2="196.00" y2="135.30" stroke="#111" stroke-width="1.6" />
<line x1="195.40" y1="134.70" x2="350.00" y2="134.70" stroke="#111" stroke-width="1.6" />
<line x1="196.00" y1="83.30" x2="350.00" y2="83.30" stroke="#111" stroke-width="1.6" />
<line x1="193.20" y1="31.90" x2="196.00" y2="31.90" stroke="#111" stroke-width="1.6" />
<line x1="193.20" y1="57.60" x2="196.00" y2="57.60" stroke="#111" stroke-width="1.6" />
<line x1="193.20" y1="83.30" x2="196.00" y2="83.30" stroke="#111" stroke-width="1.6" />
<line x1="193.20" y1="109.00" x2="196.00" y2="109.00" stroke="#111" stroke-width="1.6" />
<line x1="193.20" y1="134.70" x2="196.00" y2="134.70" stroke="#111" stroke-width="1.6" />
<line x1="211.60" y1="134.70" x2="211.60" y2="137.70" stroke="#111" stroke-width="1.6" />
<line x1="242.40" y1="134.70" x2="242.40" y2="137.70" stroke="#111" stroke-width="1.6" />
<line x1="273.20" y1="134.70" x2="273.20" y2="137.70" stroke="#111" stroke-width="1.6" />
<line x1="304.00" y1="134.70" x2="304.00" y2="137.70" stroke="#111" stroke-width="1.6" />
<line x1="334.80" y1="134.70" x2="334.80" y2="137.70" stroke="#111" stroke-width="1.6" />
<line x1="358.60" y1="28.90" x2="358.60" y2="135.30" stroke="#111" stroke-width="1.6" />
<line x1="358.00" y1="134.70" x2="512.60" y2="134.70" stroke="#111" stroke-width="1.6" />
<line x1="358.60" y1="83.30" x2="512.60" y2="83.30" stroke="#111" stroke-width="1.6" />
<line x1="355.80" y1="31.90" x2="358.60" y2="31.90" stroke="#111" stroke-width="1.6" />
<line x1="355.80" y1="57.60" x2="358.60" y2="57.60" stroke="#111" stroke-width="1.6" />
<line x1="355.80" y1="83.30" x2="358.60" y2="83.30" stroke="#111" stroke-width="1.6" />
<line x1="355.80" y1="109.00" x2="358.60" y2="109.00" stroke="#111" stroke-width="1.6" />
<line x1="355.80" y1="134.70" x2="358.60" y2="134.70" stroke="#111" stroke-width="1.6" />
<line x1="374.20" y1="134.70" x2="374.20" y2="137.70" stroke="#111" stroke-width="1.6" />
<line x1="405.00" y1="134.70" x2="405.00" y2="137.70" stroke="#111" stroke-width="1.6" />
<line x1="435.80" y1="134.70" x2="435.80" y2="137.70" stroke="#111" stroke-width="1.6" />
<line x1="466.60" y1="134.70" x2="466.60" y2="137.70" stroke="#111" stroke-width="1.6" />
<line x1="497.40" y1="134.70" x2="497.40" y2="137.70" stroke="#111" stroke-width="1.6" />
<line x1="34.00" y1="148.10" x2="34.00" y2="254.50" stroke="#111" stroke-width="1.6" />
<line x1="33.40" y1="253.90" x2="188.00" y2="253.90" stroke="#111" stroke-width="1.6" />
<line x1="34.00" y1="202.50" x2="188.00" y2="202.50" stroke="#111" stroke-width="1.6" />
<line x1="31.20" y1="151.10" x2="34.00" y2="151.10" stroke="#111" stroke-width="1.6" />
<text x="27.80" y="153.30" font-size="8.2" text-anchor="end" font-weight="normal" fill="#1a1a1a">4</text>
<line x1="31.20" y1="176.80" x2="34.00" y2="176.80" stroke="#111" stroke-width="1.6" />
<text x="27.80" y="179.00" font-size="8.2" text-anchor="end" font-weight="normal" fill="#1a1a1a">2</text>
<line x1="31.20" y1="202.50" x2="34.00" y2="202.50" stroke="#111" stroke-width="1.6" />
<text x="27.80" y="204.70" font-size="8.2" text-anchor="end" font-weight="normal" fill="#1a1a1a">0</text>
<line x1="31.20" y1="228.20" x2="34.00" y2="228.20" stroke="#111" stroke-width="1.6" />
<text x="27.80" y="230.40" font-size="8.2" text-anchor="end" font-weight="normal" fill="#1a1a1a">-2</text>
<line x1="31.20" y1="253.90" x2="34.00" y2="253.90" stroke="#111" stroke-width="1.6" />
<text x="27.80" y="256.10" font-size="8.2" text-anchor="end" font-weight="normal" fill="#1a1a1a">-4</text>
<line x1="49.60" y1="253.90" x2="49.60" y2="256.90" stroke="#111" stroke-width="1.6" />
<line x1="80.40" y1="253.90" x2="80.40" y2="256.90" stroke="#111" stroke-width="1.6" />
<line x1="111.20" y1="253.90" x2="111.20" y2="256.90" stroke="#111" stroke-width="1.6" />
<line x1="142.00" y1="253.90" x2="142.00" y2="256.90" stroke="#111" stroke-width="1.6" />
<line x1="172.80" y1="253.90" x2="172.80" y2="256.90" stroke="#111" stroke-width="1.6" />
<line x1="196.00" y1="148.10" x2="196.00" y2="254.50" stroke="#111" stroke-width="1.6" />
<line x1="195.40" y1="253.90" x2="350.00" y2="253.90" stroke="#111" stroke-width="1.6" />
<line x1="196.00" y1="202.50" x2="350.00" y2="202.50" stroke="#111" stroke-width="1.6" />
<line x1="193.20" y1="151.10" x2="196.00" y2="151.10" stroke="#111" stroke-width="1.6" />
<line x1="193.20" y1="176.80" x2="196.00" y2="176.80" stroke="#111" stroke-width="1.6" />
<line x1="193.20" y1="202.50" x2="196.00" y2="202.50" stroke="#111" stroke-width="1.6" />
<line x1="193.20" y1="228.20" x2="196.00" y2="228.20" stroke="#111" stroke-width="1.6" />
<line x1="193.20" y1="253.90" x2="196.00" y2="253.90" stroke="#111" stroke-width="1.6" />
<line x1="211.60" y1="253.90" x2="211.60" y2="256.90" stroke="#111" stroke-width="1.6" />
<line x1="242.40" y1="253.90" x2="242.40" y2="256.90" stroke="#111" stroke-width="1.6" />
<line x1="273.20" y1="253.90" x2="273.20" y2="256.90" stroke="#111" stroke-width="1.6" />
<line x1="304.00" y1="253.90" x2="304.00" y2="256.90" stroke="#111" stroke-width="1.6" />
<line x1="334.80" y1="253.90" x2="334.80" y2="256.90" stroke="#111" stroke-width="1.6" />
<line x1="358.60" y1="148.10" x2="358.60" y2="254.50" stroke="#111" stroke-width="1.6" />
<line x1="358.00" y1="253.90" x2="512.60" y2="253.90" stroke="#111" stroke-width="1.6" />
<line x1="358.60" y1="202.50" x2="512.60" y2="202.50" stroke="#111" stroke-width="1.6" />
<line x1="355.80" y1="151.10" x2="358.60" y2="151.10" stroke="#111" stroke-width="1.6" />
<line x1="355.80" y1="176.80" x2="358.60" y2="176.80" stroke="#111" stroke-width="1.6" />
<line x1="355.80" y1="202.50" x2="358.60" y2="202.50" stroke="#111" stroke-width="1.6" />
<line x1="355.80" y1="228.20" x2="358.60" y2="228.20" stroke="#111" stroke-width="1.6" />
<line x1="355.80" y1="253.90" x2="358.60" y2="253.90" stroke="#111" stroke-width="1.6" />
<line x1="374.20" y1="253.90" x2="374.20" y2="256.90" stroke="#111" stroke-width="1.6" />
<line x1="405.00" y1="253.90" x2="405.00" y2="256.90" stroke="#111" stroke-width="1.6" />
<line x1="435.80" y1="253.90" x2="435.80" y2="256.90" stroke="#111" stroke-width="1.6" />
<line x1="466.60" y1="253.90" x2="466.60" y2="256.90" stroke="#111" stroke-width="1.6" />
<line x1="497.40" y1="253.90" x2="497.40" y2="256.90" stroke="#111" stroke-width="1.6" />
<line x1="34.00" y1="268.80" x2="34.00" y2="375.20" stroke="#111" stroke-width="1.6" />
<line x1="33.40" y1="374.60" x2="188.00" y2="374.60" stroke="#111" stroke-width="1.6" />
<line x1="34.00" y1="323.20" x2="188.00" y2="323.20" stroke="#111" stroke-width="1.6" />
<line x1="31.20" y1="271.80" x2="34.00" y2="271.80" stroke="#111" stroke-width="1.6" />
<text x="27.80" y="274.00" font-size="8.2" text-anchor="end" font-weight="normal" fill="#1a1a1a">4</text>
<line x1="31.20" y1="297.50" x2="34.00" y2="297.50" stroke="#111" stroke-width="1.6" />
<text x="27.80" y="299.70" font-size="8.2" text-anchor="end" font-weight="normal" fill="#1a1a1a">2</text>
<line x1="31.20" y1="323.20" x2="34.00" y2="323.20" stroke="#111" stroke-width="1.6" />
<text x="27.80" y="325.40" font-size="8.2" text-anchor="end" font-weight="normal" fill="#1a1a1a">0</text>
<line x1="31.20" y1="348.90" x2="34.00" y2="348.90" stroke="#111" stroke-width="1.6" />
<text x="27.80" y="351.10" font-size="8.2" text-anchor="end" font-weight="normal" fill="#1a1a1a">-2</text>
<line x1="31.20" y1="374.60" x2="34.00" y2="374.60" stroke="#111" stroke-width="1.6" />
<text x="27.80" y="376.80" font-size="8.2" text-anchor="end" font-weight="normal" fill="#1a1a1a">-4</text>
<line x1="49.60" y1="374.60" x2="49.60" y2="377.60" stroke="#111" stroke-width="1.6" />
<line x1="80.40" y1="374.60" x2="80.40" y2="377.60" stroke="#111" stroke-width="1.6" />
<line x1="111.20" y1="374.60" x2="111.20" y2="377.60" stroke="#111" stroke-width="1.6" />
<line x1="142.00" y1="374.60" x2="142.00" y2="377.60" stroke="#111" stroke-width="1.6" />
<line x1="172.80" y1="374.60" x2="172.80" y2="377.60" stroke="#111" stroke-width="1.6" />
<line x1="196.00" y1="268.80" x2="196.00" y2="375.20" stroke="#111" stroke-width="1.6" />
<line x1="195.40" y1="374.60" x2="350.00" y2="374.60" stroke="#111" stroke-width="1.6" />
<line x1="196.00" y1="323.20" x2="350.00" y2="323.20" stroke="#111" stroke-width="1.6" />
<line x1="193.20" y1="271.80" x2="196.00" y2="271.80" stroke="#111" stroke-width="1.6" />
<line x1="193.20" y1="297.50" x2="196.00" y2="297.50" stroke="#111" stroke-width="1.6" />
<line x1="193.20" y1="323.20" x2="196.00" y2="323.20" stroke="#111" stroke-width="1.6" />
<line x1="193.20" y1="348.90" x2="196.00" y2="348.90" stroke="#111" stroke-width="1.6" />
<line x1="193.20" y1="374.60" x2="196.00" y2="374.60" stroke="#111" stroke-width="1.6" />
<line x1="211.60" y1="374.60" x2="211.60" y2="377.60" stroke="#111" stroke-width="1.6" />
<line x1="242.40" y1="374.60" x2="242.40" y2="377.60" stroke="#111" stroke-width="1.6" />
<line x1="273.20" y1="374.60" x2="273.20" y2="377.60" stroke="#111" stroke-width="1.6" />
<line x1="304.00" y1="374.60" x2="304.00" y2="377.60" stroke="#111" stroke-width="1.6" />
<line x1="334.80" y1="374.60" x2="334.80" y2="377.60" stroke="#111" stroke-width="1.6" />
<line x1="358.60" y1="268.80" x2="358.60" y2="375.20" stroke="#111" stroke-width="1.6" />
<line x1="358.00" y1="374.60" x2="512.60" y2="374.60" stroke="#111" stroke-width="1.6" />
<line x1="358.60" y1="323.20" x2="512.60" y2="323.20" stroke="#111" stroke-width="1.6" />
<line x1="355.80" y1="271.80" x2="358.60" y2="271.80" stroke="#111" stroke-width="1.6" />
<line x1="355.80" y1="297.50" x2="358.60" y2="297.50" stroke="#111" stroke-width="1.6" />
<line x1="355.80" y1="323.20" x2="358.60" y2="323.20" stroke="#111" stroke-width="1.6" />
<line x1="355.80" y1="348.90" x2="358.60" y2="348.90" stroke="#111" stroke-width="1.6" />
<line x1="355.80" y1="374.60" x2="358.60" y2="374.60" stroke="#111" stroke-width="1.6" />
<line x1="374.20" y1="374.60" x2="374.20" y2="377.60" stroke="#111" stroke-width="1.6" />
<line x1="405.00" y1="374.60" x2="405.00" y2="377.60" stroke="#111" stroke-width="1.6" />
<line x1="435.80" y1="374.60" x2="435.80" y2="377.60" stroke="#111" stroke-width="1.6" />
<line x1="466.60" y1="374.60" x2="466.60" y2="377.60" stroke="#111" stroke-width="1.6" />
<line x1="497.40" y1="374.60" x2="497.40" y2="377.60" stroke="#111" stroke-width="1.6" />
<text x="111.20" y="23.20" font-size="9.6" text-anchor="middle" font-weight="bold" fill="#111">NALM-6</text>
<text x="273.20" y="23.20" font-size="9.6" text-anchor="middle" font-weight="bold" fill="#111">SUP-B15</text>
<text x="435.80" y="23.20" font-size="9.6" text-anchor="middle" font-weight="bold" fill="#111">RCH-ACV</text>
<text x="7.40" y="15.80" font-size="11.2" text-anchor="start" font-weight="bold" fill="#111">A</text>
<text x="7.40" y="147.90" font-size="11.2" text-anchor="start" font-weight="bold" fill="#111">B</text>
<text x="7.40" y="268.60" font-size="11.2" text-anchor="start" font-weight="bold" fill="#111">C</text>
<text class="r" x="15.20" y="81.40" font-size="8.7" text-anchor="middle" font-weight="normal" fill="#1a1a1a" transform="rotate(-90 15.2 81.40)">Log2 change (Dex)</text>
<text class="r" x="15.20" y="200.40" font-size="8.9" text-anchor="middle" font-weight="normal" fill="#1a1a1a" transform="rotate(-90 15.2 200.40)">Log2 change (CAL-101)</text>
<text class="r" x="15.20" y="321.90" font-size="9.0" text-anchor="middle" font-weight="normal" fill="#1a1a1a" transform="rotate(-90 15.2 321.90)">Log2 change (combo)</text>
<text class="r" x="53.70" y="384.20" font-size="8.4" text-anchor="end" font-weight="normal" fill="#1a1a1a" transform="rotate(-45 53.70 384.20)">BCL2</text>
<text class="r" x="84.50" y="384.20" font-size="8.4" text-anchor="end" font-weight="normal" fill="#1a1a1a" transform="rotate(-45 84.50 384.20)">IL7R</text>
<text class="r" x="115.30" y="384.20" font-size="8.4" text-anchor="end" font-weight="normal" fill="#1a1a1a" transform="rotate(-45 115.30 384.20)">MYC</text>
<text class="r" x="146.10" y="384.20" font-size="8.4" text-anchor="end" font-weight="normal" fill="#1a1a1a" transform="rotate(-45 146.10 384.20)">BIM</text>
<text class="r" x="176.90" y="384.20" font-size="8.4" text-anchor="end" font-weight="normal" fill="#1a1a1a" transform="rotate(-45 176.90 384.20)">TXNIP</text>
<text class="r" x="215.70" y="384.20" font-size="8.4" text-anchor="end" font-weight="normal" fill="#1a1a1a" transform="rotate(-45 215.70 384.20)">BCL2</text>
<text class="r" x="246.50" y="384.20" font-size="8.4" text-anchor="end" font-weight="normal" fill="#1a1a1a" transform="rotate(-45 246.50 384.20)">IL7R</text>
<text class="r" x="277.30" y="384.20" font-size="8.4" text-anchor="end" font-weight="normal" fill="#1a1a1a" transform="rotate(-45 277.30 384.20)">MYC</text>
<text class="r" x="308.10" y="384.20" font-size="8.4" text-anchor="end" font-weight="normal" fill="#1a1a1a" transform="rotate(-45 308.10 384.20)">BIM</text>
<text class="r" x="338.90" y="384.20" font-size="8.4" text-anchor="end" font-weight="normal" fill="#1a1a1a" transform="rotate(-45 338.90 384.20)">TXNIP</text>
<text class="r" x="378.30" y="384.20" font-size="8.4" text-anchor="end" font-weight="normal" fill="#1a1a1a" transform="rotate(-45 378.30 384.20)">BCL2</text>
<text class="r" x="409.10" y="384.20" font-size="8.4" text-anchor="end" font-weight="normal" fill="#1a1a1a" transform="rotate(-45 409.10 384.20)">IL7R</text>
<text class="r" x="439.90" y="384.20" font-size="8.4" text-anchor="end" font-weight="normal" fill="#1a1a1a" transform="rotate(-45 439.90 384.20)">MYC</text>
<text class="r" x="470.70" y="384.20" font-size="8.4" text-anchor="end" font-weight="normal" fill="#1a1a1a" transform="rotate(-45 470.70 384.20)">BIM</text>
<text class="r" x="501.50" y="384.20" font-size="8.4" text-anchor="end" font-weight="normal" fill="#1a1a1a" transform="rotate(-45 501.50 384.20)">TXNIP</text>
<line x1="42.70" y1="43.40" x2="57.40" y2="43.40" stroke="#111" stroke-width="1.25" />
<line x1="42.70" y1="41.80" x2="42.70" y2="45.00" stroke="#111" stroke-width="1.3" />
<line x1="57.40" y1="41.80" x2="57.40" y2="45.00" stroke="#111" stroke-width="1.3" />
<circle cx="50.00" cy="37.80" r="1.25" fill="#111"/>
<line x1="74.80" y1="43.20" x2="88.40" y2="43.20" stroke="#111" stroke-width="1.25" />
<line x1="74.80" y1="41.60" x2="74.80" y2="44.80" stroke="#111" stroke-width="1.3" />
<line x1="88.40" y1="41.60" x2="88.40" y2="44.80" stroke="#111" stroke-width="1.3" />
<circle cx="81.60" cy="37.60" r="1.25" fill="#111"/>
<line x1="105.00" y1="43.20" x2="118.90" y2="43.20" stroke="#111" stroke-width="1.25" />
<line x1="105.00" y1="41.60" x2="105.00" y2="44.80" stroke="#111" stroke-width="1.3" />
<line x1="118.90" y1="41.60" x2="118.90" y2="44.80" stroke="#111" stroke-width="1.3" />
<circle cx="112.10" cy="37.60" r="1.25" fill="#111"/>
<line x1="166.80" y1="43.40" x2="180.70" y2="43.40" stroke="#111" stroke-width="1.25" />
<line x1="166.80" y1="41.80" x2="166.80" y2="45.00" stroke="#111" stroke-width="1.3" />
<line x1="180.70" y1="41.80" x2="180.70" y2="45.00" stroke="#111" stroke-width="1.3" />
<circle cx="173.50" cy="37.50" r="1.25" fill="#111"/>
<line x1="236.60" y1="43.40" x2="249.60" y2="43.40" stroke="#111" stroke-width="1.25" />
<line x1="236.60" y1="41.80" x2="236.60" y2="45.00" stroke="#111" stroke-width="1.3" />
<line x1="249.60" y1="41.80" x2="249.60" y2="45.00" stroke="#111" stroke-width="1.3" />
<circle cx="243.20" cy="37.50" r="1.25" fill="#111"/>
<line x1="266.40" y1="43.40" x2="280.40" y2="43.40" stroke="#111" stroke-width="1.25" />
<line x1="266.40" y1="41.80" x2="266.40" y2="45.00" stroke="#111" stroke-width="1.3" />
<line x1="280.40" y1="41.80" x2="280.40" y2="45.00" stroke="#111" stroke-width="1.3" />
<circle cx="273.50" cy="37.50" r="1.25" fill="#111"/>
<line x1="328.80" y1="43.30" x2="342.00" y2="43.30" stroke="#111" stroke-width="1.25" />
<line x1="328.80" y1="41.70" x2="328.80" y2="44.90" stroke="#111" stroke-width="1.3" />
<line x1="342.00" y1="41.70" x2="342.00" y2="44.90" stroke="#111" stroke-width="1.3" />
<circle cx="335.40" cy="37.50" r="1.25" fill="#111"/>
<line x1="460.10" y1="43.20" x2="474.40" y2="43.20" stroke="#111" stroke-width="1.25" />
<line x1="460.10" y1="41.60" x2="460.10" y2="44.80" stroke="#111" stroke-width="1.3" />
<line x1="474.40" y1="41.60" x2="474.40" y2="44.80" stroke="#111" stroke-width="1.3" />
<circle cx="466.90" cy="37.70" r="1.25" fill="#111"/>
<line x1="41.90" y1="177.50" x2="61.00" y2="177.50" stroke="#111" stroke-width="1.25" />
<line x1="41.90" y1="175.90" x2="41.90" y2="179.10" stroke="#111" stroke-width="1.3" />
<line x1="61.00" y1="175.90" x2="61.00" y2="179.10" stroke="#111" stroke-width="1.3" />
<circle cx="51.10" cy="171.50" r="1.25" fill="#111"/>
<line x1="41.00" y1="193.50" x2="50.90" y2="193.50" stroke="#111" stroke-width="1.25" />
<line x1="41.00" y1="191.90" x2="41.00" y2="195.10" stroke="#111" stroke-width="1.3" />
<line x1="50.90" y1="191.90" x2="50.90" y2="195.10" stroke="#111" stroke-width="1.3" />
<circle cx="45.90" cy="187.70" r="1.25" fill="#111"/>
<line x1="72.30" y1="176.80" x2="91.30" y2="176.80" stroke="#111" stroke-width="1.25" />
<line x1="72.30" y1="175.20" x2="72.30" y2="178.40" stroke="#111" stroke-width="1.3" />
<line x1="91.30" y1="175.20" x2="91.30" y2="178.40" stroke="#111" stroke-width="1.3" />
<circle cx="81.40" cy="171.10" r="1.25" fill="#111"/>
<line x1="104.80" y1="193.50" x2="113.70" y2="193.50" stroke="#111" stroke-width="1.25" />
<line x1="104.80" y1="191.90" x2="104.80" y2="195.10" stroke="#111" stroke-width="1.3" />
<line x1="113.70" y1="191.90" x2="113.70" y2="195.10" stroke="#111" stroke-width="1.3" />
<circle cx="109.00" cy="187.70" r="1.25" fill="#111"/>
<line x1="233.80" y1="189.90" x2="252.50" y2="189.90" stroke="#111" stroke-width="1.25" />
<line x1="233.80" y1="188.30" x2="233.80" y2="191.50" stroke="#111" stroke-width="1.3" />
<line x1="252.50" y1="188.30" x2="252.50" y2="191.50" stroke="#111" stroke-width="1.3" />
<circle cx="242.70" cy="184.20" r="1.25" fill="#111"/>
<line x1="489.80" y1="174.50" x2="508.90" y2="174.50" stroke="#111" stroke-width="1.25" />
<line x1="489.80" y1="172.90" x2="489.80" y2="176.10" stroke="#111" stroke-width="1.3" />
<line x1="508.90" y1="172.90" x2="508.90" y2="176.10" stroke="#111" stroke-width="1.3" />
<circle cx="499.40" cy="169.00" r="1.25" fill="#111"/>
<line x1="40.70" y1="293.90" x2="47.50" y2="293.90" stroke="#111" stroke-width="1.25" />
<line x1="40.70" y1="292.30" x2="40.70" y2="295.50" stroke="#111" stroke-width="1.3" />
<line x1="47.50" y1="292.30" x2="47.50" y2="295.50" stroke="#111" stroke-width="1.3" />
<circle cx="43.90" cy="288.40" r="1.25" fill="#111"/>
<line x1="72.90" y1="293.90" x2="80.10" y2="293.90" stroke="#111" stroke-width="1.25" />
<line x1="72.90" y1="292.30" x2="72.90" y2="295.50" stroke="#111" stroke-width="1.3" />
<line x1="80.10" y1="292.30" x2="80.10" y2="295.50" stroke="#111" stroke-width="1.3" />
<circle cx="76.40" cy="288.40" r="1.25" fill="#111"/>
<line x1="132.80" y1="294.00" x2="140.90" y2="294.00" stroke="#111" stroke-width="1.25" />
<line x1="132.80" y1="292.40" x2="132.80" y2="295.60" stroke="#111" stroke-width="1.3" />
<line x1="140.90" y1="292.40" x2="140.90" y2="295.60" stroke="#111" stroke-width="1.3" />
<circle cx="136.60" cy="288.30" r="1.25" fill="#111"/>
<line x1="163.90" y1="294.00" x2="171.60" y2="294.00" stroke="#111" stroke-width="1.25" />
<line x1="163.90" y1="292.40" x2="163.90" y2="295.60" stroke="#111" stroke-width="1.3" />
<line x1="171.60" y1="292.40" x2="171.60" y2="295.60" stroke="#111" stroke-width="1.3" />
<circle cx="167.70" cy="288.30" r="1.25" fill="#111"/>
<line x1="234.90" y1="292.90" x2="242.10" y2="292.90" stroke="#111" stroke-width="1.25" />
<line x1="234.90" y1="291.30" x2="234.90" y2="294.50" stroke="#111" stroke-width="1.3" />
<line x1="242.10" y1="291.30" x2="242.10" y2="294.50" stroke="#111" stroke-width="1.3" />
<circle cx="238.60" cy="287.20" r="1.25" fill="#111"/>
<line x1="245.80" y1="292.90" x2="253.00" y2="292.90" stroke="#111" stroke-width="1.25" />
<line x1="245.80" y1="291.30" x2="245.80" y2="294.50" stroke="#111" stroke-width="1.3" />
<line x1="253.00" y1="291.30" x2="253.00" y2="294.50" stroke="#111" stroke-width="1.3" />
<circle cx="249.70" cy="287.20" r="1.25" fill="#111"/>
<line x1="265.80" y1="292.90" x2="272.90" y2="292.90" stroke="#111" stroke-width="1.25" />
<line x1="265.80" y1="291.30" x2="265.80" y2="294.50" stroke="#111" stroke-width="1.3" />
<line x1="272.90" y1="291.30" x2="272.90" y2="294.50" stroke="#111" stroke-width="1.3" />
<circle cx="269.30" cy="287.00" r="1.25" fill="#111"/>
<line x1="277.00" y1="292.90" x2="284.80" y2="292.90" stroke="#111" stroke-width="1.25" />
<line x1="277.00" y1="291.30" x2="277.00" y2="294.50" stroke="#111" stroke-width="1.3" />
<line x1="284.80" y1="291.30" x2="284.80" y2="294.50" stroke="#111" stroke-width="1.3" />
<circle cx="280.60" cy="287.00" r="1.25" fill="#111"/>
<line x1="397.20" y1="291.70" x2="403.70" y2="291.70" stroke="#111" stroke-width="1.25" />
<line x1="397.20" y1="290.10" x2="397.20" y2="293.30" stroke="#111" stroke-width="1.3" />
<line x1="403.70" y1="290.10" x2="403.70" y2="293.30" stroke="#111" stroke-width="1.3" />
<circle cx="400.50" cy="286.20" r="1.25" fill="#111"/>
<line x1="428.50" y1="291.80" x2="436.00" y2="291.80" stroke="#111" stroke-width="1.25" />
<line x1="428.50" y1="290.20" x2="428.50" y2="293.40" stroke="#111" stroke-width="1.3" />
<line x1="436.00" y1="290.20" x2="436.00" y2="293.40" stroke="#111" stroke-width="1.3" />
<circle cx="432.40" cy="286.30" r="1.25" fill="#111"/>
<line x1="471.50" y1="291.90" x2="479.00" y2="291.90" stroke="#111" stroke-width="1.25" />
<line x1="471.50" y1="290.30" x2="471.50" y2="293.50" stroke="#111" stroke-width="1.3" />
<line x1="479.00" y1="290.30" x2="479.00" y2="293.50" stroke="#111" stroke-width="1.3" />
<circle cx="475.10" cy="286.50" r="1.25" fill="#111"/>
<line x1="502.10" y1="291.90" x2="509.40" y2="291.90" stroke="#111" stroke-width="1.25" />
<line x1="502.10" y1="290.30" x2="502.10" y2="293.50" stroke="#111" stroke-width="1.3" />
<line x1="509.40" y1="290.30" x2="509.40" y2="293.50" stroke="#111" stroke-width="1.3" />
<circle cx="505.60" cy="286.50" r="1.25" fill="#111"/>
<rect x="464.30" y="101.30" width="11.20" height="5.50" fill="#cbcbe8"/>
<text class="r" x="478.80" y="106.80" font-size="7.7" text-anchor="start" font-weight="normal" fill="#1a1a1a">vehicle</text>
<rect x="464.30" y="112.80" width="11.20" height="5.50" fill="#8e92cf"/>
<text class="r" x="478.80" y="118.30" font-size="7.7" text-anchor="start" font-weight="normal" fill="#1a1a1a">Low dex</text>
<rect x="464.30" y="124.10" width="11.20" height="5.50" fill="#3a46a0"/>
<text class="r" x="478.80" y="129.60" font-size="7.7" text-anchor="start" font-weight="normal" fill="#1a1a1a">High dex</text>
<rect x="447.00" y="220.30" width="11.00" height="5.50" fill="#f2d2c2"/>
<text class="r" x="461.30" y="225.80" font-size="7.7" text-anchor="start" font-weight="normal" fill="#1a1a1a">vehicle</text>
<rect x="447.00" y="232.00" width="11.00" height="5.50" fill="#e8a07e"/>
<text class="r" x="461.30" y="237.50" font-size="7.7" text-anchor="start" font-weight="normal" fill="#1a1a1a">Low CAL-101</text>
<rect x="447.00" y="243.30" width="11.00" height="5.50" fill="#d02a14"/>
<text class="r" x="461.30" y="248.80" font-size="7.7" text-anchor="start" font-weight="normal" fill="#1a1a1a">High CAL-101</text>
<rect x="361.20" y="345.90" width="10.90" height="5.20" fill="#efd20c"/>
<text class="r" x="375.80" y="351.25" font-size="7.7" text-anchor="start" font-weight="normal" fill="#1a1a1a">No CAL-101</text>
<rect x="361.20" y="355.80" width="10.90" height="5.20" fill="#ecbc12"/>
<text class="r" x="375.80" y="361.15" font-size="7.7" text-anchor="start" font-weight="normal" fill="#1a1a1a">Low CAL-101</text>
<rect x="361.20" y="365.60" width="10.90" height="5.20" fill="#d98f22"/>
<text class="r" x="375.80" y="370.95" font-size="7.7" text-anchor="start" font-weight="normal" fill="#1a1a1a">High CAL-101</text>
<rect x="448.00" y="345.60" width="11.10" height="5.60" fill="#d2c21e"/>
<text class="r" x="462.30" y="351.15" font-size="7.7" text-anchor="start" font-weight="normal" fill="#1a1a1a">No CAL-101</text>
<rect x="448.00" y="355.20" width="11.10" height="5.60" fill="#b09c2c"/>
<text class="r" x="462.30" y="360.75" font-size="7.7" text-anchor="start" font-weight="normal" fill="#1a1a1a">Low CAL-101</text>
<rect x="448.00" y="365.40" width="11.10" height="5.60" fill="#786438"/>
<text class="r" x="462.30" y="370.95" font-size="7.7" text-anchor="start" font-weight="normal" fill="#1a1a1a">High CAL-101</text>
<text class="r" x="375.80" y="341.20" font-size="7.7" text-anchor="start" font-weight="normal" fill="#1a1a1a">Low dex</text>
<text class="r" x="462.30" y="341.40" font-size="7.7" text-anchor="start" font-weight="normal" fill="#1a1a1a">High dex</text>
<line x1="200.90" y1="71.80" x2="223.50" y2="71.80" stroke="#222" stroke-width="1.3" stroke-dasharray="3.60 3.60" stroke-dashoffset="3.60"/>
<line x1="200.90" y1="337.50" x2="223.50" y2="337.50" stroke="#222" stroke-width="1.3" stroke-dasharray="3.60 3.50" stroke-dashoffset="6.20"/>
<line x1="197.40" y1="75.30" x2="197.40" y2="334.00" stroke="#222" stroke-width="1.3" stroke-dasharray="3.40 3.15" stroke-dashoffset="3.60"/>
<line x1="227.00" y1="75.30" x2="227.00" y2="334.00" stroke="#222" stroke-width="1.3" stroke-dasharray="3.40 3.15" stroke-dashoffset="3.60"/>
<path d="M199.80,71.80 L198.20,71.80 Q197.40,71.80 197.40,72.60 L197.40,74.20" fill="none" stroke="#222" stroke-width="1.3"/>
<path d="M224.60,71.80 L226.20,71.80 Q227.00,71.80 227.00,72.60 L227.00,74.20" fill="none" stroke="#222" stroke-width="1.3"/>
<path d="M199.80,337.50 L198.20,337.50 Q197.40,337.50 197.40,336.70 L197.40,335.10" fill="none" stroke="#222" stroke-width="1.3"/>
<path d="M224.60,337.50 L226.20,337.50 Q227.00,337.50 227.00,336.70 L227.00,335.10" fill="none" stroke="#222" stroke-width="1.3"/>
<line x1="393.90" y1="73.50" x2="416.50" y2="73.50" stroke="#222" stroke-width="1.3" stroke-dasharray="3.50 3.40" stroke-dashoffset="3.30"/>
<line x1="393.90" y1="334.00" x2="416.50" y2="334.00" stroke="#222" stroke-width="1.3" stroke-dasharray="3.50 3.35" stroke-dashoffset="3.95"/>
<line x1="390.40" y1="77.00" x2="390.40" y2="330.50" stroke="#222" stroke-width="1.3" stroke-dasharray="3.40 3.25" stroke-dashoffset="2.90"/>
<line x1="420.00" y1="77.00" x2="420.00" y2="330.50" stroke="#222" stroke-width="1.3" stroke-dasharray="3.40 3.20" stroke-dashoffset="3.60"/>
<path d="M392.80,73.50 L391.20,73.50 Q390.40,73.50 390.40,74.30 L390.40,75.90" fill="none" stroke="#222" stroke-width="1.3"/>
<path d="M417.60,73.50 L419.20,73.50 Q420.00,73.50 420.00,74.30 L420.00,75.90" fill="none" stroke="#222" stroke-width="1.3"/>
<path d="M392.80,334.00 L391.20,334.00 Q390.40,334.00 390.40,333.20 L390.40,331.60" fill="none" stroke="#222" stroke-width="1.3"/>
<path d="M417.60,334.00 L419.20,334.00 Q420.00,334.00 420.00,333.20 L420.00,331.60" fill="none" stroke="#222" stroke-width="1.3"/>
<rect x="0" y="0" width="520" height="1.2" fill="#000"/>
<rect x="0" y="0" width="1.1" height="408" fill="#000"/>
<rect x="518.5" y="0" width="1.5" height="408" fill="#000"/>
<rect x="0" y="406.5" width="520" height="1.5" fill="#000"/>
</svg>
</body></html>
